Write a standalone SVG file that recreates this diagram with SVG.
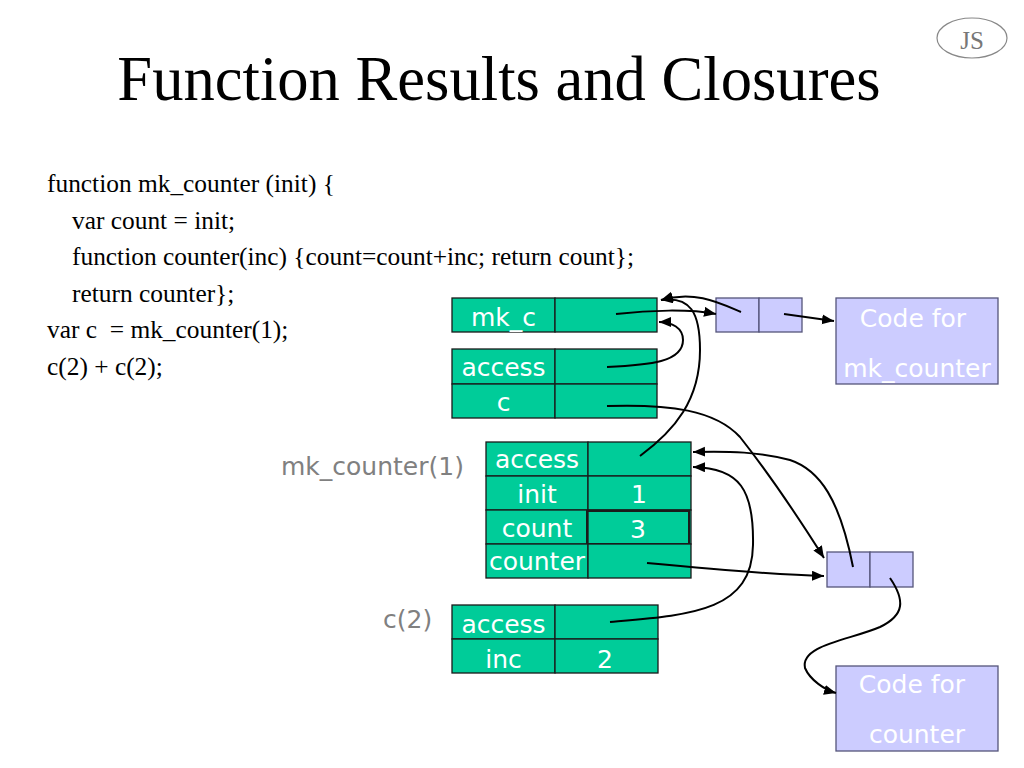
<svg xmlns="http://www.w3.org/2000/svg" width="1024" height="768" viewBox="0 0 1024 768">
<defs>
<marker id="ah" markerUnits="userSpaceOnUse" markerWidth="14" markerHeight="12" refX="12" refY="5" orient="auto">
<path d="M0,0 L12,5 L0,10 Z" fill="#000"/>
</marker>
<style>
.code{font-family:"Liberation Serif","Times New Roman",serif;font-size:25.4px;fill:#000;white-space:pre}
.g{fill:#00CC99;stroke:#1a1a1a;stroke-width:1.3}
.p{fill:#CCCCFF;stroke:#55557a;stroke-width:1.3}
.wt{font-family:"DejaVu Sans",Verdana,sans-serif;font-size:25px;fill:#fff;text-anchor:middle}
.lab{font-family:"DejaVu Sans",Verdana,sans-serif;font-size:25px;fill:#808080}
.c{fill:none;stroke:#000;stroke-width:2;marker-end:url(#ah)}
</style>
</defs>
<rect width="1024" height="768" fill="#fff"/>
<g id="title">
<text x="499" y="100" font-family="Liberation Serif,'Times New Roman',serif" font-size="62.6" text-anchor="middle">Function Results and Closures</text>
</g>
<g id="js-badge">
<ellipse cx="972" cy="38" rx="35" ry="20" fill="none" stroke="#888" stroke-width="1.2"/>
<text x="972" y="49" font-family="Liberation Serif,'Times New Roman',serif" font-size="25" fill="#777" text-anchor="middle">JS</text>
</g>
<g id="code">
<text class="code" x="47" y="192">function mk_counter (init) {</text>
<text class="code" x="72" y="228.5">var count = init;</text>
<text class="code" x="72" y="265">function counter(inc) {count=count+inc; return count};</text>
<text class="code" x="72" y="301.5">return counter};</text>
<text class="code" x="47" y="338">var c  = mk_counter(1);</text>
<text class="code" x="47" y="374.5">c(2) + c(2);</text>
</g>
<g id="global-mkc">
<rect class="g" x="452" y="298" width="103" height="34"/>
<rect class="g" x="555" y="298" width="102" height="34"/>
<text class="wt" x="503.5" y="326">mk_c</text>
</g>
<g id="global-frame">
<rect class="g" x="452" y="349" width="103" height="35"/>
<rect class="g" x="555" y="349" width="102" height="35"/>
<rect class="g" x="452" y="384" width="103" height="34"/>
<rect class="g" x="555" y="384" width="102" height="34"/>
<text class="wt" x="503.5" y="376">access</text>
<text class="wt" x="503.5" y="411">c</text>
</g>
<g id="closure-mk">
<rect class="p" x="716" y="298" width="43" height="34"/>
<rect class="p" x="759" y="298" width="43" height="34"/>
</g>
<g id="code-mk">
<rect class="p" x="836" y="298" width="162" height="86"/>
<text class="wt" x="913" y="327">Code for</text>
<text class="wt" x="917" y="377">mk_counter</text>
</g>
<g id="mk-counter-frame">
<text class="lab" x="281" y="475">mk_counter(1)</text>
<rect class="g" x="486" y="442" width="102" height="34"/>
<rect class="g" x="588" y="442" width="103" height="34"/>
<rect class="g" x="486" y="476" width="102" height="34"/>
<rect class="g" x="588" y="476" width="103" height="34"/>
<rect class="g" x="486" y="510" width="102" height="34"/>
<rect class="g" x="588" y="510" width="103" height="34"/>
<rect x="587" y="511" width="102" height="33" fill="none" stroke="#1a1a1a" stroke-width="2"/>
<rect class="g" x="486" y="544" width="102" height="34"/>
<rect class="g" x="588" y="544" width="103" height="34"/>
<text class="wt" x="537" y="468">access</text>
<text class="wt" x="537" y="503">init</text>
<text class="wt" x="639" y="503">1</text>
<text class="wt" x="537" y="537">count</text>
<text class="wt" x="638" y="538">3</text>
<text class="wt" x="537" y="570">counter</text>
</g>
<g id="closure-counter">
<rect class="p" x="827" y="552" width="43" height="35"/>
<rect class="p" x="870" y="552" width="43" height="35"/>
</g>
<g id="c2-frame">
<text class="lab" x="383" y="628">c(2)</text>
<rect class="g" x="452" y="605" width="103" height="34"/>
<rect class="g" x="555" y="605" width="103" height="34"/>
<rect class="g" x="452" y="639" width="103" height="34"/>
<rect class="g" x="555" y="639" width="103" height="34"/>
<text class="wt" x="503.5" y="633">access</text>
<text class="wt" x="503.5" y="668">inc</text>
<text class="wt" x="605" y="668">2</text>
</g>
<g id="code-counter">
<rect class="p" x="836" y="666" width="162" height="85"/>
<text class="wt" x="912" y="693">Code for</text>
<text class="wt" x="917" y="743">counter</text>
</g>
<g id="connectors">
<path class="c" d="M616,314 C650,310 690,309 716,314"/>
<path class="c" d="M741,312 C720,303 695,290 661,300"/>
<path class="c" d="M640,456 C675,430 700,400 700,350 C700,312 690,296 661,300"/>
<path class="c" d="M784,314 L834,321"/>
<path class="c" d="M607,367 C650,365 683,362 683,340 C683,328 672,322 659,322"/>
<path class="c" d="M607,406 C670,404 715,410 740,437 C770,475 800,520 824,558"/>
<path class="c" d="M853,567 C840,500 820,470 790,460 C760,452 730,451 693,452"/>
<path class="c" d="M610,622 C690,615 752,612 753,545 C754,490 740,468 693,467"/>
<path class="c" d="M647,563 C720,570 780,575 824,576"/>
<path class="c" d="M890,578 C905,600 905,615 880,627 C850,640 800,645 805,668 C810,680 825,690 836,693"/>
</g>
</svg>
